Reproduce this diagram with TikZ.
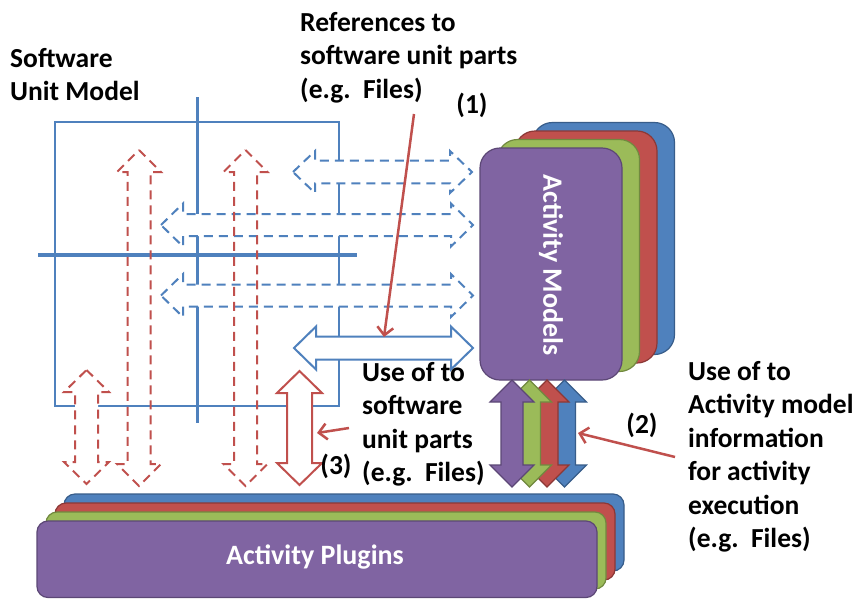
\documentclass[tikz,border=0pt]{standalone}
\usepackage{fontspec}
\setmainfont{Carlito}
\usetikzlibrary{arrows.meta}
\definecolor{oblue}{HTML}{4F81BD}
\definecolor{oblueD}{HTML}{385D8A}
\definecolor{ored}{HTML}{C0504D}
\definecolor{oredD}{HTML}{8C3836}
\definecolor{ogreen}{HTML}{9BBB59}
\definecolor{ogreenD}{HTML}{71893F}
\definecolor{opurple}{HTML}{8064A2}
\definecolor{opurpleD}{HTML}{5C4776}
% horizontal double block arrow: style, xL, xR, yc, shaft half, head half (head length 22)
\newcommand{\myHDA}[6]{%
  \draw[#1] (#2,#4) -- ({#2+22},{#4-#6}) -- ({#2+22},{#4-#5}) -- ({#3-22},{#4-#5})
    -- ({#3-22},{#4-#6}) -- (#3,#4) -- ({#3-22},{#4+#6}) -- ({#3-22},{#4+#5})
    -- ({#2+22},{#4+#5}) -- ({#2+22},{#4+#6}) -- cycle;}
% vertical double block arrow: style, xc, yT, yB, shaft half, head half (head length 22)
\newcommand{\myVDA}[6]{%
  \draw[#1] (#2,#3) -- ({#2+#6},{#3+22}) -- ({#2+#5},{#3+22}) -- ({#2+#5},{#4-22})
    -- ({#2+#6},{#4-22}) -- (#2,#4) -- ({#2-#6},{#4-22}) -- ({#2-#5},{#4-22})
    -- ({#2-#5},{#3+22}) -- ({#2-#6},{#3+22}) -- cycle;}
\begin{document}
\begin{tikzpicture}[x=1pt,y=-1pt,
  lbl/.style={font=\bfseries\fontsize{27.5}{33.5}\selectfont, text=black, inner sep=0pt, align=left},
  wlbl/.style={font=\bfseries\fontsize{28}{32}\selectfont, text=white, inner sep=0pt},
  bluebox/.style={draw=oblueD, fill=oblue, line width=1.2pt},
  redbox/.style={draw=oredD, fill=ored, line width=1.2pt},
  greenbox/.style={draw=ogreenD, fill=ogreen, line width=1.2pt},
  purplebox/.style={draw=opurpleD, fill=opurple, line width=1.2pt},
  thinblue/.style={draw=oblue, line width=2pt},
  thickblue/.style={draw=oblue, line width=3.5pt},
  bdash/.style={draw=oblue, line width=2pt, dash pattern=on 9pt off 6pt, fill=white, line join=miter},
  bsolid/.style={draw=oblue, line width=2pt, fill=white, line join=miter},
  rdash/.style={draw=ored, line width=2pt, dash pattern=on 9pt off 6pt, line join=miter},
  rdashw/.style={rdash, fill=white},
  rsolid/.style={draw=ored, line width=2pt, fill=white, line join=miter},
  pointer/.style={draw=ored, line width=2.5pt, -{Straight Barb[length=8pt,width=16pt,line width=2.5pt]}}
]
\useasboundingbox (0,0) rectangle (857,598);
\fill[white] (0,0) rectangle (857,598);

% ---- Activity Plugins stack ----
\draw[bluebox,   rounded corners=11pt] (64,494) rectangle (624,571);
\draw[redbox,    rounded corners=11pt] (55,503) rectangle (615,580);
\draw[greenbox,  rounded corners=11pt] (46,512) rectangle (606,589);
\draw[purplebox, rounded corners=11pt] (37,521) rectangle (597,597.5);
\node[wlbl] (plug) at (315,557) {Activity Plugins};

% ---- Activity Models stack ----
\draw[bluebox,   rounded corners=20pt] (532.5,122.5) rectangle (674.5,354.5);
\draw[redbox,    rounded corners=20pt] (515,131) rectangle (657,363);
\draw[greenbox,  rounded corners=20pt] (497.5,139.5) rectangle (639.5,371.5);
\draw[purplebox, rounded corners=20pt] (480,148) rectangle (622,380);
\node[wlbl, rotate=-90] (amod) at (551,265) {Activity Models};

% ---- colored vertical arrows (2) ----
\myVDA{bluebox, line join=miter}{564.5}{380}{487}{11}{22}
\myVDA{redbox, line join=miter}{547}{380}{487}{11}{22}
\myVDA{greenbox, line join=miter}{529.5}{380}{487}{11}{22}
\myVDA{purplebox, line join=miter}{512}{380}{487}{11}{22}

% ---- Software unit model lines ----
\draw[thinblue] (55,122) rectangle (339,406);
\draw[thickblue] (197.5,97) -- (197.5,423);
\draw[thickblue] (38,255) -- (357,255);

% ---- blue horizontal arrows ----
\myHDA{bdash}{293}{472}{172}{11.3}{21}
\myHDA{bdash}{161}{473}{225}{11}{21.5}
\myHDA{bdash}{161}{473}{295.5}{11}{21.5}
\myHDA{bsolid}{294}{473}{348}{11.5}{21.5}

% ---- red vertical arrows ----
\myVDA{rdash}{139}{150}{486}{11.5}{22}
\myVDA{rdash}{245.5}{150}{486}{11.5}{22}
\myVDA{rdashw}{86.5}{370}{484}{11.5}{22.5}
\myVDA{rsolid}{299.5}{371}{485}{12.5}{22.5}

% ---- texts ----
\node[lbl, anchor=north west] (swm) at (10,48) {Software\\Unit Model};
\node[lbl, anchor=north west] (refs) at (300,12) {References to\\software unit parts\\(e.g.\ \ Files)};
\node[lbl] (n1) at (472,105) {(1)};
\node[lbl, anchor=north west] (use1) at (362,362) {Use of to\\software\\unit parts\\(e.g.\ \ Files)};
\node[lbl] (n3) at (336,466) {(3)};
\node[lbl] (n2) at (642,425) {(2)};
\node[lbl, anchor=north west] (use2) at (688,361) {Use of to\\Activity model\\information\\for activity\\execution\\(e.g.\ \ Files)};

% ---- red pointers ----
\coordinate (p1s) at (414,114);
\coordinate (p1e) at (384,337);
\coordinate (p3s) at (349,428);
\coordinate (p3e) at (317,433);
\coordinate (p2s) at (675,457);
\coordinate (p2e) at (578,433);
\draw[pointer] (p1s) -- (p1e);
\draw[pointer] (p3s) -- (p3e);
\draw[pointer] (p2s) -- (p2e);
\end{tikzpicture}
\end{document}
